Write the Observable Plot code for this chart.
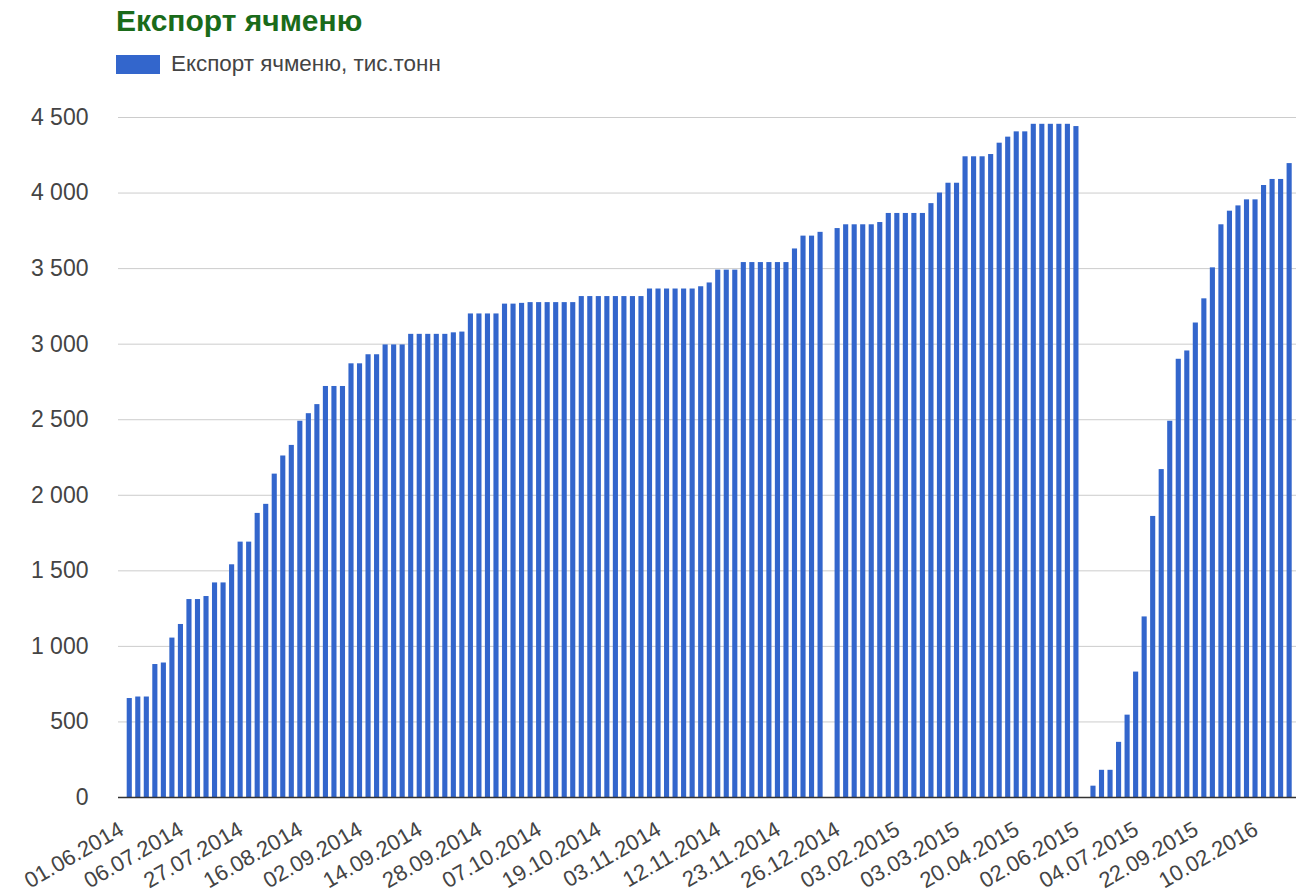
<!DOCTYPE html>
<html>
<head>
<meta charset="utf-8">
<script src="https://cdn.jsdelivr.net/npm/d3@7"></script>
<script src="https://cdn.jsdelivr.net/npm/@observablehq/plot@0.6"></script>
<style>
  html, body { margin: 0; padding: 0; background: #fff; }
  #wrap { position: relative; width: 1296px; height: 896px; font-family: Arial, "Liberation Sans", sans-serif; }
  #header { position: relative; height: 90px; }
  #title { position: absolute; left: 116px; top: 6px; font-size: 30px; line-height: 30px; font-weight: bold; color: #1a6b1a; white-space: nowrap; }
  #legend { position: absolute; left: 116px; top: 54px; height: 20px; display: flex; align-items: center; white-space: nowrap; }
  #legend .sw { width: 44px; height: 19px; background: #3366cc; margin-right: 11px; }
  #legend .lt { font-size: 22.4px; line-height: 22px; color: #444; }
  #chart svg { display: block; }
</style>
</head>
<body>
<div id="wrap">
  <div id="header">
    <div id="title"></div>
    <div id="legend"><div class="sw"></div><div class="lt"></div></div>
  </div>
  <div id="chart"></div>
</div>
<script>
const chartTitle = "Експорт ячменю";
const seriesName = "Експорт ячменю, тис.тонн";

// Export values (thousand tonnes), one per bar, left to right; null = no bar
const values = [
  655, 665, 665, 880, 890, 1055, 1145, 1310, 1310, 1330,
  1420, 1420, 1540, 1690, 1690, 1880, 1940, 2140, 2260, 2330,
  2490, 2540, 2600, 2720, 2720, 2720, 2870, 2870, 2930, 2930,
  2995, 2995, 2995, 3065, 3065, 3065, 3065, 3065, 3075, 3080,
  3200, 3200, 3200, 3200, 3265, 3265, 3270, 3275, 3275, 3275,
  3275, 3275, 3275, 3315, 3315, 3315, 3315, 3315, 3315, 3315,
  3315, 3365, 3365, 3365, 3365, 3365, 3365, 3380, 3405, 3490,
  3490, 3490, 3540, 3540, 3540, 3540, 3540, 3540, 3630, 3715,
  3715, 3740, null, 3765, 3790, 3790, 3790, 3790, 3805, 3865,
  3865, 3865, 3865, 3865, 3930, 4000, 4065, 4065, 4240, 4240,
  4240, 4255, 4330, 4370, 4405, 4405, 4455, 4455, 4455, 4455,
  4455, 4440, null, 75, 180, 180, 365, 545, 830, 1195,
  1860, 2170, 2490, 2900, 2955, 3140, 3300, 3505, 3790, 3880,
  3915, 3955, 3955, 4050, 4090, 4090, 4195
];

// Date labels shown on the x axis (every 7th bar)
const dateLabels = [
  "01.06.2014", "06.07.2014", "27.07.2014", "16.08.2014", "02.09.2014",
  "14.09.2014", "28.09.2014", "07.10.2014", "19.10.2014", "03.11.2014",
  "12.11.2014", "23.11.2014", "26.12.2014", "03.02.2015", "03.03.2015",
  "20.04.2015", "02.06.2015", "04.07.2015", "22.09.2015", "10.02.2016"
];
const labelEvery = 7;

const yTicks = [0, 500, 1000, 1500, 2000, 2500, 3000, 3500, 4000, 4500];

document.getElementById("title").textContent = chartTitle;
document.querySelector("#legend .lt").textContent = seriesName;

const data = values.map((v, i) => ({i, v}));
const labelByIndex = new Map(dateLabels.map((d, k) => [k * labelEvery, d]));
const fmt = d3.formatLocale({thousands: "\u00a0", grouping: [3], decimal: ","}).format(",");

const chart = Plot.plot({
  width: 1296,
  height: 806,
  marginTop: 27,
  marginBottom: 99,
  marginLeft: 118,
  marginRight: 0,
  style: {fontFamily: "Arial, 'Liberation Sans', sans-serif", fontSize: "20px", color: "#444", background: "#fff"},
  x: {type: "band", domain: data.map(d => d.i), range: [126.7, 1291.7], paddingInner: 0.4, paddingOuter: 0, axis: null},
  y: {domain: [0, 4500], axis: null},
  marks: [
    Plot.ruleY(yTicks.filter(t => t > 0), {stroke: "#cccccc", strokeWidth: 1}),
    Plot.barY(data.filter(d => d.v != null), {x: "i", y: "v", fill: "#3366cc"}),
    Plot.ruleY([0], {stroke: "#333", strokeWidth: 1.5}),
    Plot.axisY({ticks: yTicks, tickFormat: fmt, tickSize: 0, tickPadding: 30, fontSize: 23, fill: "#444", label: null}),
    Plot.axisX({ticks: [...labelByIndex.keys()], tickFormat: i => labelByIndex.get(i), tickRotate: -30, tickSize: 0, tickPadding: 30, dx: -8, fontSize: 22, fill: "#444", label: null})
  ]
});
document.getElementById("chart").appendChild(chart);
</script>
</body>
</html>
